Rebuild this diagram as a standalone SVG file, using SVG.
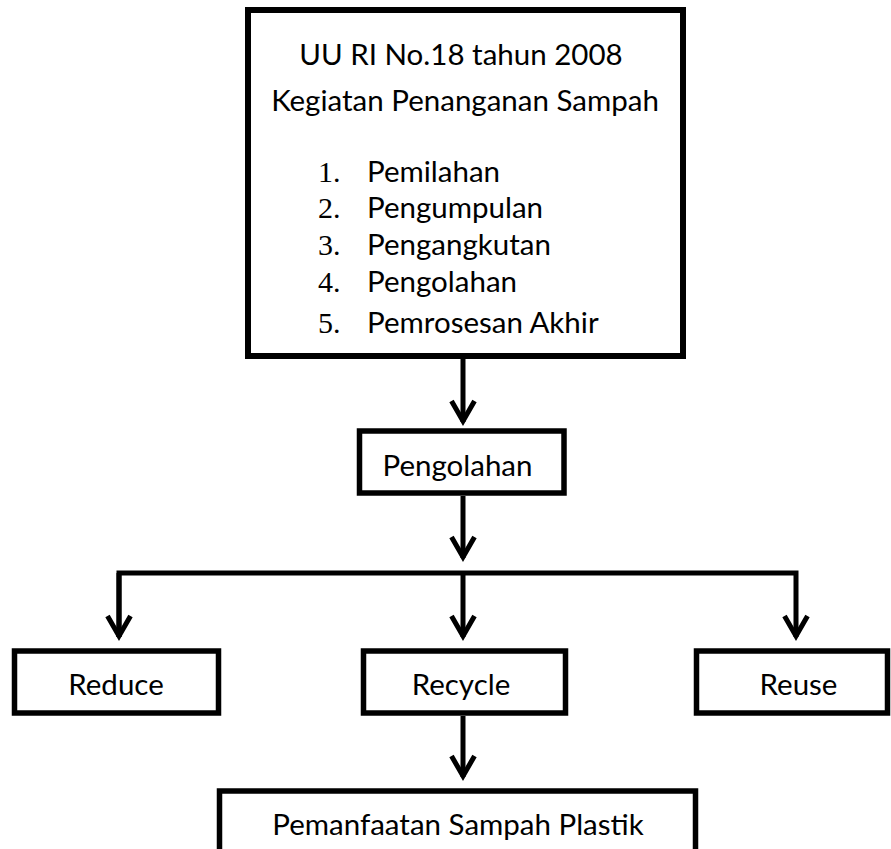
<svg xmlns="http://www.w3.org/2000/svg" width="891" height="849" viewBox="0 0 891 849">
<defs>
<style>
.box{fill:#fff;stroke:#000;stroke-width:5.5}
.t{font-family:Lato,"Liberation Sans",sans-serif;font-size:29.5px;fill:#000}
.c{text-anchor:middle}
.n{font-family:"Liberation Serif","DejaVu Serif",serif;font-size:30px;fill:#000}
.ln{fill:none;stroke:#000;stroke-width:5}
</style>
<marker id="ah" markerUnits="userSpaceOnUse" markerWidth="30" markerHeight="30" viewBox="-25 -15 30 30" refX="0" refY="0" orient="auto">
<path d="M-21,-11.5 L-1,0 L-21,11.5" fill="none" stroke="#000" stroke-width="5"/>
</marker>
</defs>
<rect width="891" height="849" fill="#fff"/>
<g id="connectors">
<line class="ln" x1="463" y1="359" x2="463" y2="422" marker-end="url(#ah)"/>
<line class="ln" x1="463" y1="496" x2="463" y2="558" marker-end="url(#ah)"/>
<polyline class="ln" points="119,637 119,573 796,573 796,637" marker-end="url(#ah)"/>
<line class="ln" x1="119" y1="573" x2="119" y2="637" marker-end="url(#ah)"/>
<line class="ln" x1="463" y1="573" x2="463" y2="637" marker-end="url(#ah)"/>
<line class="ln" x1="463" y1="716" x2="463" y2="777" marker-end="url(#ah)"/>
</g>
<g id="uu">
<rect class="box" x="248" y="10" width="435" height="346" style="stroke-width:6"/>
<text class="t c" x="461" y="65">UU RI No.18 tahun 2008</text>
<text class="t c" x="465" y="111">Kegiatan Penanganan Sampah</text>
<text class="n" x="318" y="182">1.</text><text class="t" x="367" y="182">Pemilahan</text>
<text class="n" x="318" y="218">2.</text><text class="t" x="367" y="218">Pengumpulan</text>
<text class="n" x="318" y="255">3.</text><text class="t" x="367" y="255">Pengangkutan</text>
<text class="n" x="318" y="292">4.</text><text class="t" x="367" y="292">Pengolahan</text>
<text class="n" x="318" y="333">5.</text><text class="t" x="367" y="333">Pemrosesan Akhir</text>
</g>
<g id="pengolahan">
<rect class="box" x="359.5" y="431" width="204.5" height="62"/>
<text class="t c" x="457.5" y="476">Pengolahan</text>
</g>
<g id="reduce">
<rect class="box" x="14.5" y="651" width="204" height="62"/>
<text class="t c" x="116" y="695">Reduce</text>
</g>
<g id="recycle">
<rect class="box" x="363.5" y="651" width="202" height="62"/>
<text class="t c" x="461" y="695">Recycle</text>
</g>
<g id="reuse">
<rect class="box" x="696.5" y="651" width="191" height="62"/>
<text class="t c" x="798.5" y="695">Reuse</text>
</g>
<g id="pemanfaatan">
<rect class="box" x="219.5" y="791" width="476" height="80"/>
<text class="t c" x="458" y="835">Pemanfaatan Sampah Plastik</text>
</g>
</svg>
